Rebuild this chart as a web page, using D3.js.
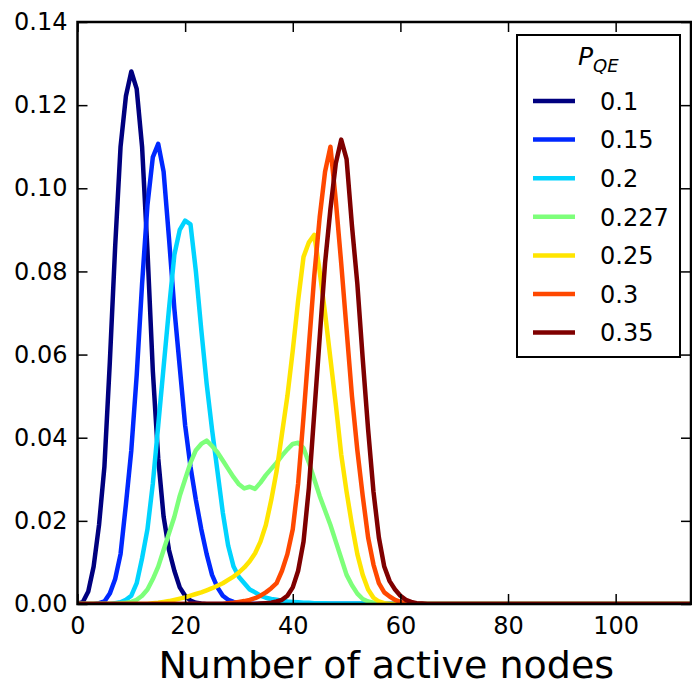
<!DOCTYPE html>
<html>
<head>
<meta charset="utf-8">
<script src="https://cdn.jsdelivr.net/npm/d3@7"></script>
<style>
  html, body { margin: 0; padding: 0; background: #fff; }
  svg { display: block; }
  text { font-family: "DejaVu Sans", sans-serif; fill: #000; }
</style>
</head>
<body>
<svg id="chart" width="692" height="684"></svg>
<script>
// ---- data ----
const xMax = 114;
const xTicks = [0, 20, 40, 60, 80, 100];
const yTicks = [0, 0.02, 0.04, 0.06, 0.08, 0.10, 0.12, 0.14];
const seriesLabels = ["0.1", "0.15", "0.2", "0.227", "0.25", "0.3", "0.35"];
const seriesColors = ["#00007f", "#0028ff", "#00d4ff", "#7dff7a", "#ffe500", "#ff4800", "#7f0000"];

// each series: first x index and the values from there (0 elsewhere)
const p010Start = 0;
const p010 = [0, 0.0005, 0.003, 0.009, 0.019, 0.033, 0.058, 0.086, 0.110, 0.1222, 0.1281, 0.1239, 0.110, 0.085, 0.056, 0.035, 0.021, 0.013, 0.008, 0.004, 0.002, 0.0008, 0.0003, 0.0001];
const p015Start = 4;
const p015 = [0.0002, 0.0006, 0.0025, 0.006, 0.012, 0.024, 0.037, 0.055, 0.077, 0.096, 0.1075, 0.1107, 0.104, 0.088, 0.071, 0.057, 0.043, 0.033, 0.025, 0.018, 0.012, 0.007, 0.004, 0.002, 0.001, 0.0005, 0.0002];
const p020Start = 7;
const p020 = [0.0002, 0.0004, 0.001, 0.002, 0.005, 0.011, 0.018, 0.029, 0.043, 0.057, 0.071, 0.084, 0.090, 0.0922, 0.0913, 0.080, 0.066, 0.053, 0.042, 0.032, 0.022, 0.014, 0.009, 0.0065, 0.005, 0.0035, 0.0028, 0.002, 0.0015, 0.0012, 0.001, 0.0008, 0.0006, 0.0005, 0.0004, 0.0003, 0.0003, 0.0002, 0.0002, 0.0002, 0.0001, 0.0001, 0.0001, 0.0001, 0.0001, 0.0001, 0.0001];
const p0227Start = 8;
const p0227 = [0.0002, 0.0003, 0.0005, 0.001, 0.002, 0.0035, 0.006, 0.009, 0.013, 0.017, 0.021, 0.026, 0.030, 0.034, 0.037, 0.0385, 0.0393, 0.038, 0.0365, 0.0345, 0.0325, 0.0305, 0.0288, 0.0278, 0.0282, 0.0277, 0.0292, 0.031, 0.0325, 0.034, 0.0357, 0.0372, 0.0385, 0.0388, 0.0375, 0.034, 0.030, 0.026, 0.0225, 0.019, 0.015, 0.011, 0.007, 0.0045, 0.0025, 0.0012, 0.0006, 0.0003, 0.0001];
const p025Start = 14;
const p025 = [0.0002, 0.0003, 0.0005, 0.0007, 0.001, 0.0013, 0.0016, 0.002, 0.0024, 0.0028, 0.0033, 0.0038, 0.0044, 0.005, 0.0058, 0.0066, 0.0076, 0.0088, 0.0103, 0.0122, 0.015, 0.019, 0.025, 0.032, 0.041, 0.050, 0.061, 0.073, 0.0835, 0.087, 0.0888, 0.080, 0.070, 0.059, 0.048, 0.036, 0.027, 0.019, 0.012, 0.007, 0.0035, 0.0015, 0.0006, 0.0002];
const p030Start = 28;
const p030 = [0.0002, 0.0003, 0.0005, 0.0007, 0.001, 0.0014, 0.002, 0.0028, 0.0038, 0.005, 0.008, 0.012, 0.018, 0.029, 0.045, 0.062, 0.079, 0.093, 0.104, 0.110, 0.097, 0.082, 0.066, 0.050, 0.037, 0.026, 0.016, 0.0095, 0.005, 0.0028, 0.0018, 0.001, 0.0005, 0.0002];
const p035Start = 34;
const p035 = [0.0001, 0.0002, 0.0003, 0.0006, 0.001, 0.002, 0.004, 0.008, 0.015, 0.028, 0.046, 0.064, 0.082, 0.095, 0.106, 0.1117, 0.107, 0.091, 0.077, 0.059, 0.042, 0.027, 0.016, 0.009, 0.0055, 0.0035, 0.002, 0.001, 0.0005, 0.0002, 0.0001];

const seriesStarts = [p010Start, p015Start, p020Start, p0227Start, p025Start, p030Start, p035Start];
const seriesValues = [p010, p015, p020, p0227, p025, p030, p035];

// ---- layout ----
const W = 692, H = 684;
const L = 77.5, R = 691, T = 22, B = 604;

const svg = d3.select("#chart");
svg.append("rect").attr("width", W).attr("height", H).attr("fill", "#fff");

const x = d3.scaleLinear().domain([0, xMax]).range([L, R]);
const y = d3.scaleLinear().domain([0, 0.14]).range([B, T]);

svg.append("defs").append("clipPath").attr("id", "plotclip")
  .append("rect").attr("x", L).attr("y", T).attr("width", R - L).attr("height", B - T);

const allX = d3.range(0, xMax + 1);
const line = d3.line().x(d => x(d[0])).y(d => y(d[1]));

const plot = svg.append("g").attr("clip-path", "url(#plotclip)");
seriesValues.forEach((vals, k) => {
  const start = seriesStarts[k];
  const pts = allX.map(i => [i, (i >= start && i < start + vals.length) ? vals[i - start] : 0]);
  plot.append("path")
    .datum(pts)
    .attr("d", line)
    .attr("fill", "none")
    .attr("stroke", seriesColors[k])
    .attr("stroke-width", 4.5)
    .attr("stroke-linejoin", "round")
    .attr("stroke-linecap", "butt");
});

// ---- axes (ticks inward on all four sides) ----
const tickLen = 10;
const xAxisB = d3.axisBottom(x).tickValues(xTicks).tickSize(-tickLen).tickPadding(13).tickFormat(d3.format("d"));
const xAxisT = d3.axisTop(x).tickValues(xTicks).tickSize(-tickLen).tickFormat("");
const yAxisL = d3.axisLeft(y).tickValues(yTicks).tickSize(-tickLen).tickPadding(10).tickFormat(d3.format(".2f"));
const yAxisR = d3.axisRight(y).tickValues(yTicks).tickSize(-tickLen).tickFormat("");

function styleAxis(g) {
  g.select(".domain").remove();
  g.selectAll(".tick line").attr("stroke", "#000").attr("stroke-width", 1.5);
  g.selectAll(".tick text").attr("font-family", "DejaVu Sans, sans-serif").attr("font-size", 24).attr("fill", "#000");
}
svg.append("g").attr("transform", `translate(0,${B})`).call(xAxisB).call(styleAxis);
svg.append("g").attr("transform", `translate(0,${T})`).call(xAxisT).call(styleAxis);
svg.append("g").attr("transform", `translate(${L},0)`).call(yAxisL).call(styleAxis);
svg.append("g").attr("transform", `translate(${R},0)`).call(yAxisR).call(styleAxis);

// frame
svg.append("rect").attr("x", L).attr("y", T).attr("width", R - L).attr("height", B - T)
  .attr("fill", "none").attr("stroke", "#000").attr("stroke-width", 2.5);

// x label
svg.append("text")
  .attr("x", (L + R) / 2 + 2).attr("y", 678)
  .attr("text-anchor", "middle")
  .attr("font-size", 38)
  .text("Number of active nodes");

// ---- legend ----
const lg = svg.append("g");
const lgX = 517, lgY = 35, lgW = 163, lgH = 322;
lg.append("rect").attr("x", lgX).attr("y", lgY).attr("width", lgW).attr("height", lgH)
  .attr("fill", "#fff").attr("stroke", "#000").attr("stroke-width", 2);
const title = lg.append("text").attr("x", 578).attr("y", 65)
  .attr("font-family", "DejaVu Serif, serif").attr("font-style", "italic").attr("font-size", 25);
title.append("tspan").text("P");
title.append("tspan").attr("dy", 7).attr("font-size", 18).text("QE");

seriesLabels.forEach((lab, k) => {
  const yy = 101 + k * 38.6;
  lg.append("line").attr("x1", 533).attr("x2", 575).attr("y1", yy).attr("y2", yy)
    .attr("stroke", seriesColors[k]).attr("stroke-width", 4.5);
  lg.append("text").attr("x", 600).attr("y", yy + 8.7).attr("font-size", 24).text(lab);
});
</script>
</body>
</html>
